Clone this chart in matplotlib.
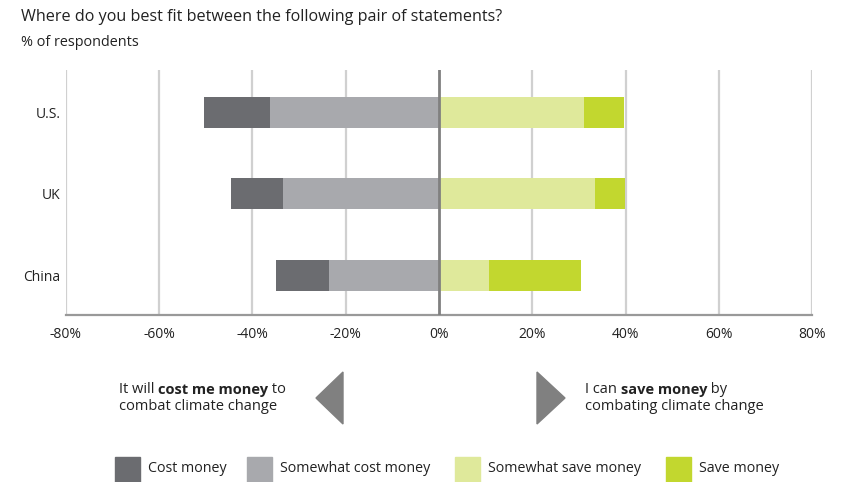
import matplotlib
matplotlib.use("Agg")
import matplotlib.pyplot as plt
from matplotlib.patches import Rectangle, Polygon

plt.rcParams['font.family'] = ['Open Sans', 'DejaVu Sans']

# ---- data ----
countries = ["U.S.", "UK", "China"]
cost_money = [14.0, 11.2, 11.4]
somewhat_cost = [36.3, 33.5, 23.6]
somewhat_save = [31.0, 33.4, 10.8]
save_money = [8.6, 6.5, 19.6]
series_names = ["Cost money", "Somewhat cost money", "Somewhat save money", "Save money"]
colors = ["#6b6c70", "#a8a9ad", "#dfe99b", "#c2d72f"]
xticks = [-80, -60, -40, -20, 0, 20, 40, 60, 80]

W, H = 844, 482
fig = plt.figure(figsize=(W / 100, H / 100), dpi=100)

def fx(px):
    return px / W

def fy(py):
    return 1 - py / H

ax = fig.add_axes([fx(66), fy(315), fx(812) - fx(66), fy(70) - fy(315)])

ypos = list(range(len(countries)))
bh = 0.38
# negative side
ax.barh(ypos, [-v for v in somewhat_cost], height=bh, color=colors[1], zorder=3)
ax.barh(ypos, [-v for v in cost_money], left=[-v for v in somewhat_cost], height=bh,
        color=colors[0], zorder=3)
# positive side
ax.barh(ypos, somewhat_save, height=bh, color=colors[2], zorder=3)
ax.barh(ypos, save_money, left=somewhat_save, height=bh, color=colors[3], zorder=3)

ax.set_xlim(-80, 80)
ax.set_ylim(2.485, -0.521)
ax.set_xticks(xticks)
ax.set_xticklabels([f"{t}%" for t in xticks], fontsize=10, color="#222222")
ax.set_yticks(ypos)
ax.set_yticklabels(countries, fontsize=10, color="#222222")
ax.tick_params(axis="both", length=0)
ax.tick_params(axis="x", pad=9)
ax.tick_params(axis="y", pad=4)

for t in xticks:
    if t == 0:
        ax.axvline(t, color="#808080", lw=2.0, zorder=4)
    else:
        ax.axvline(t, color="#d0d0d0", lw=1.6, zorder=1)

for s in ["top", "right", "left"]:
    ax.spines[s].set_visible(False)
ax.spines["bottom"].set_color("#999999")
ax.spines["bottom"].set_linewidth(1.6)

# titles
fig.text(fx(21), fy(17), "Where do you best fit between the following pair of statements?",
         fontsize=11.6, color="#222222", va="center", ha="left")
fig.text(fx(21), fy(42), "% of respondents", fontsize=10.4, color="#222222",
         va="center", ha="left")

FS = 10.5

def mixed_line(x, y, parts):
    t = fig.text(x, y, parts[0][0], fontsize=FS, color="#222222",
                 weight="bold" if parts[0][1] else "normal", va="baseline", ha="left")
    for txt, bold in parts[1:]:
        t = plt.annotate(txt, xy=(1, 0), xycoords=t, xytext=(0, 0), textcoords="offset points",
                         fontsize=FS, color="#222222", weight="bold" if bold else "normal",
                         va="bottom", ha="left", annotation_clip=False)
    return t

mixed_line(fx(119), fy(393), [("It will ", False), ("cost me money", True), (" to", False)])
fig.text(fx(119), fy(410), "combat climate change", fontsize=FS, color="#222222",
         va="baseline", ha="left")
mixed_line(fx(585), fy(393), [("I can ", False), ("save money", True), (" by", False)])
fig.text(fx(585), fy(410), "combating climate change", fontsize=FS, color="#222222",
         va="baseline", ha="left")

# arrows
fig.patches.append(Polygon([[fx(343), fy(372)], [fx(343), fy(424)], [fx(316), fy(398)]],
                           closed=True, transform=fig.transFigure, color="#808080"))
fig.patches.append(Polygon([[fx(537), fy(372)], [fx(537), fy(424)], [fx(565), fy(398)]],
                           closed=True, transform=fig.transFigure, color="#808080"))

# legend
leg_x = [115, 247, 455, 666]
for name, c, lx in zip(series_names, colors, leg_x):
    fig.patches.append(Rectangle((fx(lx), fy(482)), fx(25), fy(457) - fy(482),
                                 transform=fig.transFigure, color=c))
    fig.text(fx(lx + 33), fy(469), name, fontsize=10.3, color="#222222",
             va="center", ha="left")

fig.savefig("out.png", dpi=100)
